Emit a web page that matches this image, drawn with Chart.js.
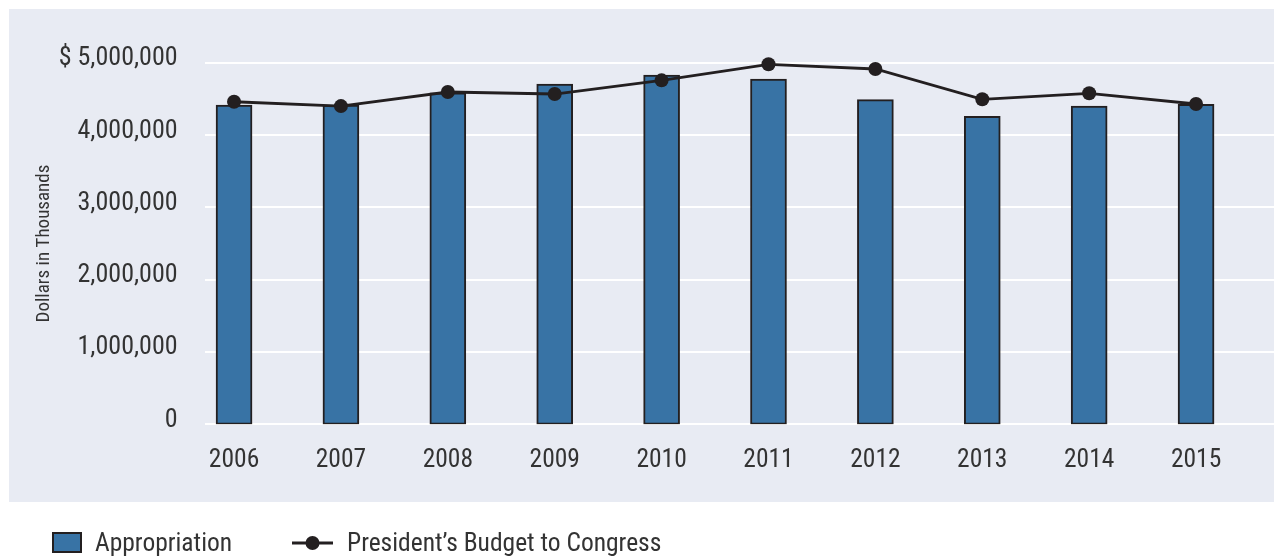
<!DOCTYPE html>
<html>
<head>
<meta charset="utf-8">
<script src="https://cdn.jsdelivr.net/npm/chart.js@4/dist/chart.umd.min.js"></script>
<style>
  html, body { margin: 0; padding: 0; background: #ffffff; }
  #wrap { width: 1274px; height: 560px; }
</style>
</head>
<body>
<div id="wrap"><canvas id="c" width="1274" height="560"></canvas></div>
<script>
const categories = ['2006', '2007', '2008', '2009', '2010', '2011', '2012', '2013', '2014', '2015'];
const appropriation = [4415000, 4415000, 4585000, 4705000, 4830000, 4775000, 4490000, 4260000, 4400000, 4425000];
const presidentsBudget = [4460000, 4400000, 4595000, 4567000, 4756000, 4978000, 4913000, 4494000, 4577000, 4429000];
const yTickValues = [0, 1000000, 2000000, 3000000, 4000000, 5000000];
const yTickLabels = ['0', '1,000,000', '2,000,000', '3,000,000', '4,000,000', '$ 5,000,000'];
const seriesNames = ['Appropriation', 'President\u2019s Budget to Congress'];
const yTitle = 'Dollars in Thousands';

const FONT = "'Liberation Sans Narrow', 'Roboto Condensed', 'DejaVu Sans Condensed', sans-serif";
const TEXT = '#333333';
const PANEL = '#e8ebf3';
const BAR = '#3873a5';
const DARK = '#231f20';

const panelPlugin = {
  id: 'panel',
  beforeDraw(chart) {
    const ctx = chart.ctx;
    ctx.save();
    ctx.fillStyle = '#ffffff';
    ctx.fillRect(0, 0, chart.width, chart.height);
    ctx.fillStyle = PANEL;
    ctx.fillRect(9, 9, chart.width - 9, 493);
    const y = chart.scales.y;
    ctx.strokeStyle = '#ffffff';
    ctx.lineWidth = 2;
    y.ticks.forEach(t => {
      const py = Math.round(y.getPixelForValue(t.value));
      ctx.beginPath();
      ctx.moveTo(205, py);
      ctx.lineTo(chart.width, py);
      ctx.stroke();
    });
    ctx.restore();
  },
  afterDraw(chart) {
    const ctx = chart.ctx;
    ctx.save();
    const cy = 543;
    // bar legend box
    ctx.fillStyle = BAR;
    ctx.fillRect(52, 532, 30, 21);
    ctx.strokeStyle = DARK;
    ctx.lineWidth = 2;
    ctx.strokeRect(53, 533, 28, 19);
    // line legend
    ctx.beginPath();
    ctx.moveTo(292, cy);
    ctx.lineTo(333, cy);
    ctx.lineWidth = 2.8;
    ctx.stroke();
    ctx.beginPath();
    ctx.arc(312.5, cy, 7, 0, Math.PI * 2);
    ctx.fillStyle = DARK;
    ctx.fill();
    ctx.fillStyle = TEXT;
    ctx.font = '25.5px ' + FONT;
    ctx.textBaseline = 'middle';
    ctx.textAlign = 'left';
    ctx.fillText(seriesNames[0], 95, cy + 1.5);
    ctx.fillText(seriesNames[1], 347, cy + 1.5);
    ctx.restore();
  }
};

new Chart(document.getElementById('c'), {
  data: {
    labels: categories,
    datasets: [
      {
        type: 'line',
        label: seriesNames[1],
        data: presidentsBudget,
        borderColor: DARK,
        backgroundColor: DARK,
        borderWidth: 2.8,
        pointRadius: 7,
        pointBackgroundColor: DARK,
        pointBorderWidth: 0,
        tension: 0,
        clip: false,
        order: 0
      },
      {
        type: 'bar',
        label: seriesNames[0],
        data: appropriation,
        backgroundColor: BAR,
        borderColor: DARK,
        borderWidth: 2,
        borderSkipped: false,
        barThickness: 36,
        order: 1
      }
    ]
  },
  options: {
    responsive: false,
    devicePixelRatio: 1,
    animation: false,
    events: [],
    layout: { padding: { top: 62.7, right: 24.5, left: 0, bottom: 0 } },
    plugins: {
      legend: { display: false },
      tooltip: { enabled: false },
      title: { display: false }
    },
    scales: {
      x: {
        type: 'category',
        offset: true,
        grid: { display: false, drawTicks: false },
        border: { display: false },
        ticks: {
          color: TEXT,
          font: { family: FONT, size: 25.5 },
          padding: 21,
          maxRotation: 0,
          autoSkip: false
        },
        afterFit(scale) { scale.height = 560 - 424.3; }
      },
      y: {
        min: 0,
        max: 5000000,
        afterBuildTicks(scale) { scale.ticks = yTickValues.map(v => ({ value: v })); },
        grid: { display: false, drawTicks: false },
        border: { display: false },
        ticks: {
          color: TEXT,
          font: { family: FONT, size: 26 },
          padding: 3,
          labelOffset: -4,
          callback: (v) => { const i = yTickValues.indexOf(v); return i >= 0 ? yTickLabels[i] : ''; }
        },
        title: {
          display: true,
          text: yTitle,
          color: TEXT,
          font: { family: FONT, size: 19 },
          padding: { top: 32.6, bottom: 0 }
        },
        afterFit(scale) { scale.width = 180.6; }
      }
    }
  },
  plugins: [panelPlugin]
});
</script>
</body>
</html>
